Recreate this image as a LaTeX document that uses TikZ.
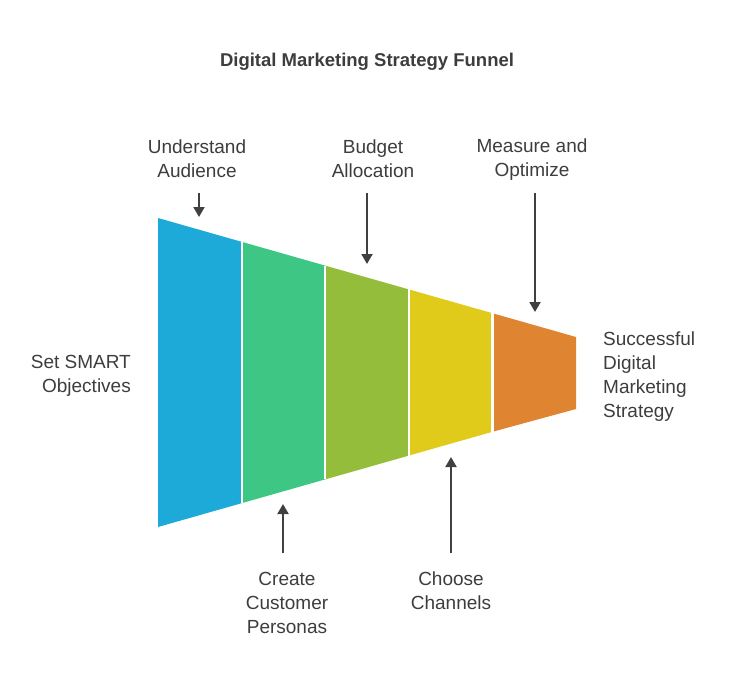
\documentclass[tikz,border=0pt]{standalone}
\usepackage{fontspec}
\setmainfont{Liberation Sans}
\usetikzlibrary{arrows.meta}
\definecolor{cblue}{HTML}{1EAAD9}
\definecolor{cgreen}{HTML}{3EC784}
\definecolor{colive}{HTML}{93BD3A}
\definecolor{cyellow}{HTML}{E0CA1A}
\definecolor{corange}{HTML}{DF8431}
\definecolor{ctext}{HTML}{3D3D3D}
\definecolor{carrow}{HTML}{404040}
\tikzset{
  lbl/.style={font=\fontsize{19}{24}\selectfont, text=ctext, inner sep=0pt, align=center},
  ttl/.style={font=\fontsize{18.5}{22}\selectfont\bfseries, text=ctext, inner sep=0pt},
  arr/.style={draw=carrow, line width=2pt, -{Triangle[width=11pt,length=10pt]}},
  sep/.style={draw=white, line width=2.2pt}
}
\begin{document}
\begin{tikzpicture}[x=1pt,y=-1pt]
\useasboundingbox (0,0) rectangle (734,686);
% funnel coordinates
\coordinate (t0) at (158,218);   \coordinate (b0) at (158,527);
\coordinate (t1) at (241.6,241.8); \coordinate (b1) at (241.6,503.2);
\coordinate (t2) at (325.2,265.6); \coordinate (b2) at (325.2,479.4);
\coordinate (t3) at (408.8,289.4); \coordinate (b3) at (408.8,455.6);
\coordinate (t4) at (492.4,313.2); \coordinate (b4) at (492.4,431.8);
\coordinate (t5) at (576,337);   \coordinate (b5) at (576,409);
\fill[cblue]   (t0) -- (t1) -- (b1) -- (b0) -- cycle;
\fill[cgreen]  (t1) -- (t2) -- (b2) -- (b1) -- cycle;
\fill[colive]  (t2) -- (t3) -- (b3) -- (b2) -- cycle;
\fill[cyellow] (t3) -- (t4) -- (b4) -- (b3) -- cycle;
\fill[corange] (t4) -- (t5) -- (b5) -- (b4) -- cycle;
\draw[sep] (t1) -- (b1);
\draw[sep] (t2) -- (b2);
\draw[sep] (t3) -- (b3);
\draw[sep] (t4) -- (b4);
% title
\node[ttl] (title) at (367,62) {Digital Marketing Strategy Funnel};
% labels
\node[lbl] (ua) at (197,159) {Understand\\Audience};
\node[lbl] (ba) at (373,159) {Budget\\Allocation};
\node[lbl] (mo) at (532,160) {Measure and\\Optimize};
\node[lbl, align=right, anchor=east] (so) at (131,376) {Set SMART\\Objectives};
\node[lbl, align=left, anchor=west] (ss) at (603,377) {Successful\\Digital\\Marketing\\Strategy};
\node[lbl] (cp) at (287,603) {Create\\Customer\\Personas};
\node[lbl] (cc) at (451,591) {Choose\\Channels};
% arrow end points
\coordinate (ua1) at (199,193); \coordinate (ua2) at (199,217);
\coordinate (ba1) at (367,193); \coordinate (ba2) at (367,264);
\coordinate (mo1) at (535,193); \coordinate (mo2) at (535,312);
\coordinate (cp1) at (283,553); \coordinate (cp2) at (283,504);
\coordinate (cc1) at (451,553); \coordinate (cc2) at (451,457);
\draw[arr] (ua1) -- (ua2);
\draw[arr] (ba1) -- (ba2);
\draw[arr] (mo1) -- (mo2);
\draw[arr] (cp1) -- (cp2);
\draw[arr] (cc1) -- (cc2);
\end{tikzpicture}
\end{document}
